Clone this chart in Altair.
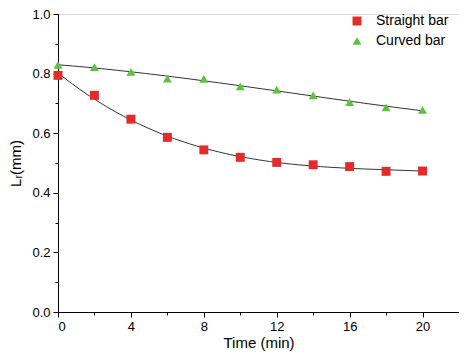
import altair as alt
import pandas as pd

time = [0, 2, 4, 6, 8, 10, 12, 14, 16, 18, 20]
straight = [0.794, 0.727, 0.647, 0.586, 0.544, 0.519, 0.502, 0.494, 0.488, 0.472, 0.473]
curved = [0.829, 0.822, 0.806, 0.783, 0.782, 0.757, 0.746, 0.727, 0.704, 0.687, 0.678]
series = ["Straight bar", "Curved bar"]
colors = ["#e32b2b", "#5cc23f"]
shapes = ["square", "triangle-up"]
x_major = [0, 4, 8, 12, 16, 20]
x_minor = [2, 6, 10, 14, 18, 22]
y_major = [0.0, 0.2, 0.4, 0.6, 0.8, 1.0]
y_minor = [0.1, 0.3, 0.5, 0.7, 0.9]

rows = []
for t, s, c in zip(time, straight, curved):
    rows.append({"time": t, "L": s, "series": series[0]})
    rows.append({"time": t, "L": c, "series": series[1]})
df = pd.DataFrame(rows)

FONT = "Liberation Sans"
xscale = alt.Scale(domain=[0, 22], nice=False, zero=False)
yscale = alt.Scale(domain=[0, 1.0], nice=False)

legend = alt.Legend(title=None, orient="none", legendX=292, legendY=0,
                    labelFont=FONT, labelFontSize=14, labelColor="black",
                    symbolSize=80, symbolOpacity=1, rowPadding=5, labelOffset=12)

base = alt.Chart(df)

points = base.mark_point(filled=True, size=80, opacity=1).encode(
    x=alt.X("time:Q", scale=xscale,
            axis=alt.Axis(values=x_major, orient="bottom", tickSize=5, labelFontSize=13,
                          labelFont=FONT, labelColor="black", title="Time (min)",
                          titleFont=FONT, titleFontSize=15, titleFontWeight="normal",
                          titleColor="black", titlePadding=2, domainColor="black",
                          tickColor="black", grid=False, labelPadding=3)),
    y=alt.Y("L:Q", scale=yscale,
            axis=alt.Axis(values=y_major, orient="left", tickSize=5, labelFontSize=13,
                          labelFont=FONT, labelColor="black", format=".1f",
                          title="Lᵣ(mm)", titleFont=FONT, titleFontSize=15,
                          titleFontWeight="normal", titleColor="black", titlePadding=8,
                          domainColor="black", tickColor="black", grid=False, labelPadding=3)),
    color=alt.Color("series:N", scale=alt.Scale(domain=series, range=colors), legend=legend),
    shape=alt.Shape("series:N", scale=alt.Scale(domain=series, range=shapes), legend=legend),
)

lines = base.transform_regression(
    "time", "L", method="poly", order=3, groupby=["series"], extent=[0, 20]
).mark_line(color="black", strokeWidth=0.8).encode(
    x=alt.X("time:Q", scale=xscale,
            axis=alt.Axis(values=x_minor, orient="bottom", tickSize=3, labels=False,
                          title=None, domainColor="black", tickColor="black", grid=False)),
    y=alt.Y("L:Q", scale=yscale,
            axis=alt.Axis(values=y_minor, orient="left", tickSize=3, labels=False,
                          title=None, domainColor="black", tickColor="black", grid=False)),
    detail="series:N",
)

chart = alt.layer(lines, points).resolve_axis(x="independent", y="independent").properties(
    width=401, height=298,
    autosize=alt.AutoSizeParams(type="none"),
    padding={"left": 50, "top": 6, "right": 0, "bottom": 40},
).configure_view(stroke=None).configure(background="white")

chart.save("out.html", embed_options={"renderer": "svg", "actions": False})
